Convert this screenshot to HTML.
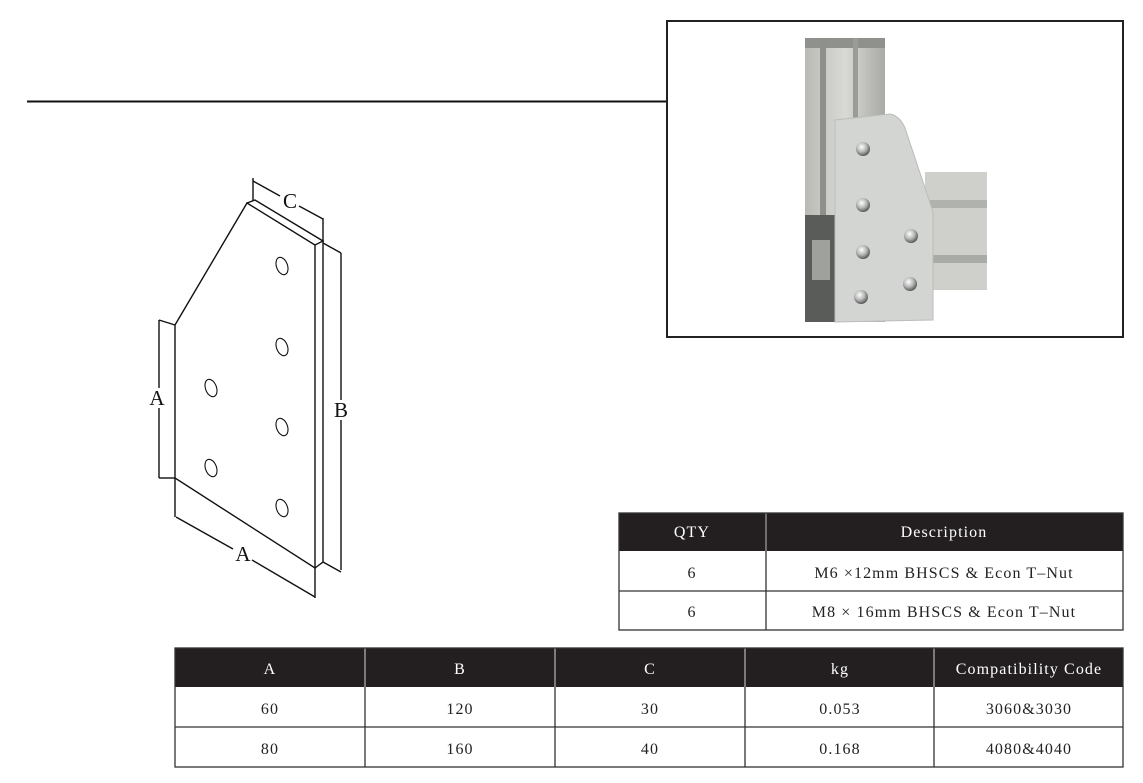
<!DOCTYPE html>
<html><head><meta charset="utf-8"><style>
html,body{margin:0;padding:0;background:#fff;}
body{width:1143px;height:783px;overflow:hidden;position:relative;font-family:"Liberation Serif",serif;}
svg{position:absolute;left:0;top:0;}
</style></head><body>
<svg width="1143" height="783" viewBox="0 0 1143 783" xmlns="http://www.w3.org/2000/svg">
<defs>
<linearGradient id="pr" x1="0" x2="1"><stop offset="0" stop-color="#b9bab4"/><stop offset="0.5" stop-color="#d9dad5"/><stop offset="1" stop-color="#a9aaa5"/></linearGradient>
<radialGradient id="sc" cx="0.4" cy="0.35" r="0.7"><stop offset="0" stop-color="#fff"/><stop offset="0.5" stop-color="#b8b8b8"/><stop offset="1" stop-color="#4a4a4a"/></radialGradient>
</defs>
<line x1="27" y1="101.5" x2="666" y2="101.5" stroke="#111" stroke-width="2"/>
<rect x="667" y="21" width="456" height="316" fill="#fff" stroke="#222" stroke-width="2"/>
<rect x="805" y="38" width="80" height="284" fill="url(#pr)"/>
<rect x="805" y="38" width="80" height="10" fill="#8f918c"/>
<rect x="820" y="38" width="6" height="200" fill="#8e908b"/>
<rect x="853" y="38" width="5" height="200" fill="#9a9c97"/>
<rect x="805" y="215" width="32" height="107" fill="#5a5c5a"/>
<rect x="812" y="240" width="18" height="40" fill="#9fa19d"/>
<rect x="925" y="172" width="62" height="118" fill="#cfd0cb"/>
<rect x="930" y="200" width="57" height="8" fill="#b0b2ad"/>
<rect x="930" y="255" width="57" height="8" fill="#a9aba6"/>
<path d="M835,120 L890,114 Q900,116 905,128 L933,212 L933,320 L835,322 Z" fill="#d3d5d2" stroke="#bbbdb9"/>
<g fill="url(#sc)">
<circle cx="863" cy="149" r="7"/><circle cx="863" cy="205" r="7"/><circle cx="863" cy="252" r="7"/>
<circle cx="911" cy="236" r="7"/><circle cx="861" cy="297" r="7"/><circle cx="910" cy="284" r="7"/>
</g>
<g fill="none" stroke="#111" stroke-width="1.4">
<path d="M175,325 L247,203 L315,245 L315,568 L175,478 Z" fill="#fff"/>
<path d="M247,203 L255,200 L323,241 L315,245"/>
<path d="M323,241 L323,562 L315,568"/>
<path d="M175,478 L175,517"/>
<line x1="253" y1="178" x2="253" y2="201"/>
<line x1="323" y1="218" x2="323" y2="241"/>
<line x1="253" y1="181" x2="280" y2="196"/><line x1="299" y1="206" x2="323" y2="219"/>
<line x1="323" y1="243" x2="341" y2="253"/>
<line x1="341" y1="253" x2="341" y2="400"/><line x1="341" y1="420" x2="341" y2="570"/>
<line x1="323" y1="562" x2="341" y2="572"/>
<line x1="159" y1="320" x2="175" y2="325"/>
<line x1="159" y1="320" x2="159" y2="388"/><line x1="159" y1="408" x2="159" y2="478"/>
<line x1="159" y1="478" x2="175" y2="478"/>
<line x1="176" y1="517" x2="233" y2="549"/><line x1="252" y1="560" x2="315" y2="597"/>
<line x1="315" y1="568" x2="315" y2="598"/>
<g stroke-width="1.1">
<ellipse cx="282" cy="266" rx="5.5" ry="9" transform="rotate(-20 282 266)"/>
<ellipse cx="282" cy="347" rx="5.5" ry="9" transform="rotate(-20 282 347)"/>
<ellipse cx="211" cy="388" rx="5.5" ry="9" transform="rotate(-20 211 388)"/>
<ellipse cx="282" cy="427" rx="5.5" ry="9" transform="rotate(-20 282 427)"/>
<ellipse cx="211" cy="468" rx="5.5" ry="9" transform="rotate(-20 211 468)"/>
<ellipse cx="282" cy="508" rx="5.5" ry="9" transform="rotate(-20 282 508)"/>
</g>
</g>
<g font-family="Liberation Serif, serif" font-size="21" fill="#111" text-anchor="middle">
<text x="290" y="208">C</text>
<text x="341" y="417">B</text>
<text x="157" y="405">A</text>
<text x="243" y="561">A</text>
</g>
<rect x="619" y="513" width="504" height="38" fill="#231f20"/>
<line x1="766" y1="513" x2="766" y2="551" stroke="#888" stroke-width="1.5"/>
<g fill="none" stroke="#333" stroke-width="1.3">
<rect x="619" y="513" width="504" height="117"/>
<line x1="619" y1="591" x2="1123" y2="591"/>
<line x1="766" y1="551" x2="766" y2="630"/>
</g>
<g font-family="Liberation Serif, serif" font-size="16" text-anchor="middle" letter-spacing="1.1">
<text x="692" y="537" fill="#fff">QTY</text>
<text x="944" y="537" fill="#fff">Description</text>
<text x="692" y="578" fill="#222">6</text>
<text x="944" y="578" fill="#222">M6 ×12mm BHSCS &amp; Econ T–Nut</text>
<text x="692" y="617" fill="#222">6</text>
<text x="944" y="617" fill="#222">M8 × 16mm BHSCS &amp; Econ T–Nut</text>
</g>
<rect x="175" y="648" width="948" height="39" fill="#231f20"/>
<g stroke="#999" stroke-width="1.5">
<line x1="365" y1="648" x2="365" y2="687"/><line x1="555" y1="648" x2="555" y2="687"/>
<line x1="745" y1="648" x2="745" y2="687"/><line x1="934" y1="648" x2="934" y2="687"/>
</g>
<g fill="none" stroke="#333" stroke-width="1.3">
<rect x="175" y="648" width="948" height="119"/>
<line x1="175" y1="727" x2="1123" y2="727"/>
<line x1="365" y1="687" x2="365" y2="767"/><line x1="555" y1="687" x2="555" y2="767"/>
<line x1="745" y1="687" x2="745" y2="767"/><line x1="934" y1="687" x2="934" y2="767"/>
</g>
<g font-family="Liberation Serif, serif" font-size="16" text-anchor="middle" letter-spacing="1.1">
<g fill="#fff">
<text x="270" y="674">A</text><text x="460" y="674">B</text><text x="650" y="674">C</text>
<text x="840" y="674">kg</text><text x="1029" y="674">Compatibility Code</text>
</g>
<g fill="#222">
<text x="270" y="714">60</text><text x="460" y="714">120</text><text x="650" y="714">30</text>
<text x="840" y="714">0.053</text><text x="1029" y="714">3060&amp;3030</text>
<text x="270" y="754">80</text><text x="460" y="754">160</text><text x="650" y="754">40</text>
<text x="840" y="754">0.168</text><text x="1029" y="754">4080&amp;4040</text>
</g>
</g>
</svg>
</body></html>
